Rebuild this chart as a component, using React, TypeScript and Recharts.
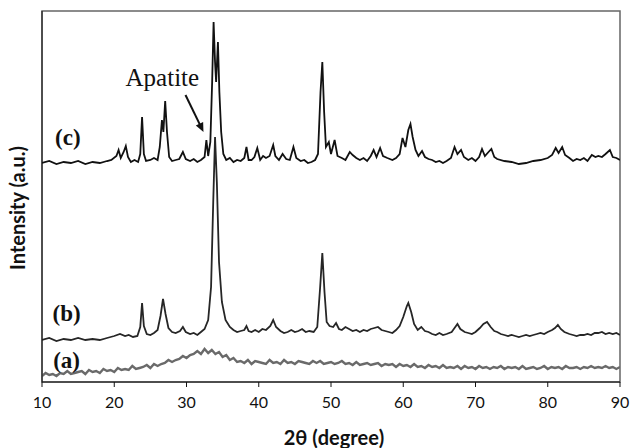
import React from "react";
import {
  LineChart,
  Line,
  XAxis,
  YAxis,
  ReferenceArea,
  ReferenceDot,
  ReferenceLine,
} from "recharts";

// 2θ ticks
const TICKS = [10, 20, 30, 40, 50, 60, 70, 80, 90];

// trace (c) — [2θ, intensity a.u. incl. offset]
const TRACE_C: [number, number][] = [
  [10, 219], [11, 221], [12, 218], [13, 220], [14, 219], [15, 221], [16, 218], [17, 220],
  [18, 219], [19, 221], [19.6, 222], [20.3, 226], [20.6, 232], [20.9, 224], [21.3, 230],
  [21.6, 236], [21.9, 225], [22.3, 220], [22.8, 222], [23.3, 220], [23.6, 228], [23.85, 265],
  [24.1, 228], [24.4, 221], [25, 222], [25.5, 224], [26, 222], [26.3, 235], [26.6, 262],
  [26.8, 250], [27.05, 281], [27.3, 250], [27.6, 225], [28, 221], [28.5, 222], [29, 223],
  [29.5, 230], [29.9, 223], [30.5, 221], [31, 223], [31.5, 220], [32, 222], [32.5, 225],
  [32.75, 242], [33, 226], [33.3, 240], [33.55, 300], [33.75, 360], [33.95, 320], [34.1, 300],
  [34.35, 340], [34.55, 290], [34.8, 250], [35.1, 228], [35.5, 222], [36, 224], [36.5, 220],
  [37, 222], [37.5, 221], [38, 224], [38.3, 235], [38.6, 222], [39, 222], [39.4, 225],
  [39.8, 234], [40.2, 222], [40.6, 226], [41, 224], [41.5, 226], [42, 237], [42.3, 226],
  [42.8, 222], [43.3, 228], [43.8, 223], [44.3, 222], [44.8, 235], [45.2, 224], [45.8, 221],
  [46.3, 222], [46.8, 219], [47.3, 220], [47.8, 222], [48.2, 228], [48.55, 290], [48.8, 320],
  [49.05, 270], [49.3, 235], [49.7, 240], [50, 228], [50.5, 242], [50.9, 226], [51.5, 224],
  [52, 222], [52.6, 230], [53, 227], [53.5, 224], [54, 222], [54.5, 224], [55, 221],
  [55.5, 226], [55.9, 232], [56.3, 225], [56.8, 234], [57.2, 226], [57.8, 224], [58.5, 222],
  [59, 224], [59.5, 228], [59.9, 244], [60.3, 235], [60.7, 252], [61, 258], [61.3, 245],
  [61.7, 232], [62.1, 226], [62.6, 231], [63, 225], [63.5, 223], [64, 222], [64.5, 220],
  [65, 221], [65.5, 219], [66, 221], [66.6, 224], [67.1, 235], [67.5, 228], [68, 232],
  [68.4, 225], [69, 222], [69.5, 224], [70, 221], [70.5, 225], [70.9, 233], [71.3, 226],
  [71.8, 230], [72.2, 233], [72.6, 225], [73, 223], [74, 221], [75, 220], [76, 218],
  [77, 219], [78, 221], [79, 222], [80, 224], [80.6, 227], [81.1, 234], [81.5, 229],
  [82, 235], [82.4, 227], [83, 224], [83.5, 221], [84, 223], [84.5, 222], [85, 224],
  [85.5, 221], [86.1, 227], [86.6, 225], [87, 226], [87.5, 225], [88, 228], [88.6, 232],
  [89, 225], [89.5, 224], [90, 222],
];

// trace (b)
const TRACE_B: [number, number][] = [
  [10, 42], [11, 44], [12, 41], [13, 43], [14, 42], [15, 44], [16, 42], [17, 43], [18, 42],
  [19, 44], [20, 46], [20.8, 48], [21.5, 46], [22, 47], [22.6, 45], [23.2, 46], [23.6, 55],
  [23.85, 79], [24.1, 56], [24.5, 48], [25, 47], [25.5, 49], [26, 52], [26.4, 66],
  [26.75, 83], [27.1, 68], [27.5, 54], [28, 50], [28.5, 49], [29.1, 51], [29.5, 55],
  [29.9, 50], [30.5, 48], [31, 49], [31.5, 47], [32, 50], [32.5, 53], [33, 62], [33.4, 95],
  [33.7, 180], [33.95, 245], [34.2, 200], [34.5, 120], [34.9, 80], [35.4, 62], [36, 55],
  [36.5, 52], [37, 50], [37.5, 51], [38, 52], [38.3, 56], [38.6, 51], [39, 50], [39.5, 52],
  [40, 50], [40.5, 53], [41, 52], [41.6, 56], [42, 62], [42.4, 55], [43, 51], [43.5, 49],
  [44, 50], [44.5, 52], [45, 50], [45.5, 51], [46, 53], [46.5, 50], [47, 51], [47.6, 50],
  [48.1, 55], [48.5, 95], [48.8, 129], [49.1, 90], [49.4, 60], [49.8, 56], [50.3, 55],
  [50.7, 59], [51.1, 53], [51.5, 52], [52, 55], [52.5, 53], [53, 51], [53.5, 52], [54, 50],
  [54.5, 52], [55, 51], [55.5, 53], [56, 54], [56.5, 55], [57, 52], [57.5, 51], [58, 50],
  [58.5, 49], [59, 52], [59.5, 56], [60, 65], [60.5, 76], [60.7, 79], [61.1, 70], [61.5, 58],
  [62, 52], [62.5, 55], [63, 51], [63.5, 50], [64, 48], [64.5, 47], [65, 49], [65.5, 47],
  [66, 48], [66.7, 50], [67.1, 54], [67.5, 58], [67.9, 53], [68.5, 50], [69, 49], [69.5, 48],
  [70, 50], [70.6, 54], [71.1, 58], [71.6, 60], [72.1, 55], [72.6, 51], [73, 50], [73.5, 48],
  [74, 47], [74.5, 46], [75, 47], [75.5, 46], [76, 45], [76.5, 46], [77, 47], [77.5, 46],
  [78, 47], [78.5, 48], [79, 49], [79.5, 48], [80, 50], [80.6, 52], [81, 54], [81.4, 57],
  [81.8, 53], [82.3, 50], [83, 48], [83.5, 47], [84, 46], [84.5, 47], [85, 47], [85.5, 48],
  [86, 47], [86.5, 49], [87, 49], [87.5, 50], [88, 48], [88.5, 49], [89, 48], [89.5, 49],
  [90, 47],
];

// trace (a) — amorphous hump
const TRACE_A: [number, number][] = [
  [10, 6], [10.5, 9], [11, 7], [11.5, 8], [12, 6], [12.5, 9], [13, 8], [13.5, 11], [14, 8],
  [14.5, 9], [15, 10], [15.5, 11], [16, 8], [16.5, 12], [17, 10], [17.5, 11], [18, 9],
  [18.5, 13], [19, 11], [19.5, 12], [20, 10], [20.5, 14], [21, 12], [21.5, 13], [22, 12],
  [22.5, 16], [23, 13], [23.5, 14], [24, 15], [24.5, 17], [25, 14], [25.5, 18], [26, 16],
  [26.5, 18], [27, 19], [27.5, 22], [28, 20], [28.5, 22], [29, 23], [29.5, 26], [30, 24],
  [30.5, 27], [31, 28], [31.5, 31], [32, 28], [32.5, 33], [33, 29], [33.5, 32], [34, 28],
  [34.5, 30], [35, 25], [35.5, 27], [36, 22], [36.5, 24], [37, 20], [37.5, 21], [38, 19],
  [38.5, 22], [39, 18], [39.5, 21], [40, 20], [40.5, 19], [41, 18], [41.5, 22], [42, 19],
  [42.5, 20], [43, 18], [43.5, 22], [44, 19], [44.5, 20], [45, 18], [45.5, 21], [46, 20],
  [46.5, 19], [47, 18], [47.5, 21], [48, 19], [48.5, 21], [49, 18], [49.5, 19], [50, 20],
  [50.5, 18], [51, 19], [51.5, 21], [52, 18], [52.5, 19], [53, 17], [53.5, 20], [54, 17],
  [54.5, 18], [55, 19], [55.5, 17], [56, 18], [56.5, 19], [57, 16], [57.5, 18], [58, 17],
  [58.5, 18], [59, 15], [59.5, 18], [60, 16], [60.5, 17], [61, 15], [61.5, 18], [62, 15],
  [62.5, 16], [63, 14], [63.5, 17], [64, 15], [64.5, 16], [65, 14], [65.5, 17], [66, 14],
  [66.5, 15], [67, 14], [67.5, 16], [68, 13], [68.5, 16], [69, 14], [69.5, 15], [70, 13],
  [70.5, 16], [71, 14], [71.5, 15], [72, 13], [72.5, 15], [73, 14], [73.5, 16], [74, 13],
  [74.5, 15], [75, 14], [75.5, 15], [76, 13], [76.5, 16], [77, 13], [77.5, 14], [78, 15],
  [78.5, 13], [79, 14], [79.5, 16], [80, 13], [80.5, 15], [81, 14], [81.5, 15], [82, 13],
  [82.5, 16], [83, 14], [83.5, 14], [84, 15], [84.5, 13], [85, 15], [85.5, 14], [86, 16],
  [86.5, 14], [87, 15], [87.5, 14], [88, 16], [88.5, 14], [89, 15], [89.5, 13], [90, 15],
];

const toRows = (pts: [number, number][]) => pts.map(([x, v]) => ({ x, v }));

const serif = "'Liberation Serif', 'DejaVu Serif', serif";
const sans = "Lato, 'Open Sans', sans-serif";

const tagLabel = (text: string, size = 18, weight: any = "bold") => (props: any) => (
  <text
    x={props.cx}
    y={props.cy}
    textAnchor="middle"
    dominantBaseline="central"
    fontFamily={serif}
    fontSize={size}
    fontWeight={weight}
    fill="#111"
  >
    {text}
  </text>
);

const arrowShape = (p: any) => {
  const { x1, y1, x2, y2 } = p;
  const ang = Math.atan2(y2 - y1, x2 - x1);
  const len = 10;
  const w = 0.42;
  const ax = x2 - len * Math.cos(ang - w);
  const ay = y2 - len * Math.sin(ang - w);
  const bx = x2 - len * Math.cos(ang + w);
  const by = y2 - len * Math.sin(ang + w);
  return (
    <g>
      <line x1={x1} y1={y1} x2={x2 - 4 * Math.cos(ang)} y2={y2 - 4 * Math.sin(ang)} stroke="#111" strokeWidth={2} />
      <path d={`M${x2},${y2} L${ax},${ay} L${bx},${by} Z`} fill="#111" />
    </g>
  );
};

export default function App() {
  return (
    <div style={{ position: "absolute", left: 0, top: 0, width: 632, height: 448, background: "#fff" }}>
      <LineChart width={632} height={448} margin={{ top: 11, right: 12, left: 8, bottom: 36 }}>
        <XAxis
          type="number"
          dataKey="x"
          domain={[10, 90]}
          ticks={TICKS}
          allowDataOverflow
          stroke="#111"
          tickSize={5}
          tickMargin={10}
          height={30}
          tick={{ fill: "#111", fontSize: 16, fontFamily: sans }}
          label={{
            content: () => (
              <text x={334} y={437} textAnchor="middle" dominantBaseline="central" fontFamily={sans} fontWeight="bold" fontSize={20} fill="#111">
                2θ (degree)
              </text>
            ),
          }}
        />
        <YAxis
          type="number"
          dataKey="v"
          domain={[0, 371]}
          allowDataOverflow
          width={34}
          tick={false}
          tickLine={false}
          stroke="#111"
          label={{
            content: () => (
              <text x={17} y={208} transform="rotate(-90 17 208)" textAnchor="middle" dominantBaseline="central" fontFamily={sans} fontWeight="bold" fontSize={20} fill="#111">
                Intensity (a.u.)
              </text>
            ),
          }}
        />
        <ReferenceArea x1={10} x2={90} y1={0} y2={371} fill="none" stroke="#666" strokeWidth={1.5} />
        <Line data={toRows(TRACE_A)} dataKey="v" type="linear" stroke="#6a6a6a" strokeWidth={2.4} dot={false} isAnimationActive={false} />
        <Line data={toRows(TRACE_B)} dataKey="v" type="linear" stroke="#262626" strokeWidth={1.8} dot={false} isAnimationActive={false} />
        <Line data={toRows(TRACE_C)} dataKey="v" type="linear" stroke="#111" strokeWidth={1.8} dot={false} isAnimationActive={false} />
        <ReferenceDot x={13.57} y={245} r={0} shape={tagLabel("(c)", 23)} />
        <ReferenceDot x={13.4} y={69} r={0} shape={tagLabel("(b)", 23)} />
        <ReferenceDot x={13.4} y={22} r={0} shape={tagLabel("(a)", 23)} />
        <ReferenceDot x={26.66} y={305} r={0} shape={tagLabel("Apatite", 25, "normal")} />
        <ReferenceLine segment={[{ x: 29.86, y: 287 }, { x: 32.35, y: 250 }]} shape={arrowShape} />
      </LineChart>
    </div>
  );
}
